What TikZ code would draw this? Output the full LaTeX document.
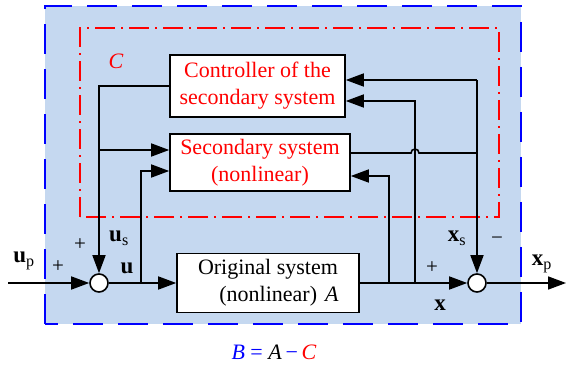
\documentclass[tikz,border=0pt]{standalone}
\usepackage{fontspec}
\setmainfont{Liberation Serif}
\usetikzlibrary{arrows.meta}
\definecolor{bgblue}{RGB}{197,216,240}
\tikzset{
  box/.style={draw=black,line width=1.6pt,fill=white,inner sep=0pt,align=center,font=\rmfamily\fontsize{22}{27}\selectfont},
  sumj/.style={circle,draw=black,line width=1.6pt,fill=white,minimum size=18pt,inner sep=0pt},
  conn/.style={line width=1.6pt,-{Triangle[length=18pt,width=13pt]}},
  wire/.style={line width=1.6pt},
  lbl/.style={font=\fontsize{23}{23}\selectfont,inner sep=0pt},
  sgn/.style={font=\fontsize{21}{21}\selectfont,inner sep=0pt},
}
\begin{document}
\begin{tikzpicture}[x=1pt,y=1pt]
\useasboundingbox (0,0) rectangle (566,367);
% outer region B
\fill[bgblue] (45,43) rectangle (521,361);
\draw[blue,line width=2pt,dash pattern=on 30pt off 15pt] (45,43) rectangle (521,361);
% region C
\draw[red,line width=1.5pt,dash pattern=on 20pt off 6pt on 2pt off 6pt] (80,150) rectangle (499,339);
\node[red,font=\fontsize{22}{22}\selectfont\itshape] (lc) at (116,306) {C};
% blocks
\node[box,text=red,minimum width=175pt,minimum height=62pt] (ctrl) at (257.5,281) {Controller of the\\secondary system};
\node[box,text=red,minimum width=180pt,minimum height=57pt] (sec) at (260,204.5) {Secondary system\\(nonlinear)};
\node[box,minimum width=182pt,minimum height=59pt] (orig) at (268,84) {Original system\\\hspace*{22pt}(nonlinear)\hspace{8pt}\textit{A}};
% summing junctions
\node[sumj] (jl) at (99,84) {};
\node[sumj] (jr) at (477,84) {};
\coordinate (in) at (8,84);
\coordinate (out) at (566,84);
% helper coordinates
\coordinate (b1) at (99,217);
\coordinate (b2) at (141,84);
\coordinate (uT) at (141,196);
\coordinate (x1) at (389,84);
\coordinate (x1t) at (389,191);
\coordinate (x2) at (415,84);
\coordinate (x2t) at (415,266);
\coordinate (xs) at (477,287);
\coordinate (hop) at (415,214);
% connectors
\draw[conn] (in) -- (jl);
\draw[conn] (jl) -- (orig);
\draw[conn] (ctrl.west) -| (jl.north);
\draw[conn] (b1) -- (b1 -| sec.west);
\draw[conn] (b2) -- (uT) -- (uT -| sec.west);
\draw[conn] (orig.east) -- (jr.west);
\draw[conn] (jr) -- (out);
\draw[conn] (x1) -- (x1t) -- (x1t -| sec.east);
\draw[conn] (x2) -- (x2t) -- (x2t -| ctrl.east);
\draw[conn] (xs) -- (jr.north);
\draw[conn] (xs) -- (xs -| ctrl.east);
\draw[wire] (sec.east |- hop) -- ([xshift=-4pt]hop) arc[start angle=180,end angle=0,radius=4pt] -- (hop -| xs);
% labels
\node[lbl] (lup) at (24,106) {\textbf{u}\textsubscript{p}};
\node[sgn] (p1) at (58,100) {+};
\node[sgn] (p2) at (80,122) {+};
\node[lbl] (lus) at (119,129) {\textbf{u}\textsubscript{s}};
\node[lbl] (lu) at (127,99) {\textbf{u}};
\node[lbl] (lxs) at (457,129) {\textbf{x}\textsubscript{s}};
\node[sgn] (m1) at (497,126) {−};
\node[sgn] (p3) at (432,99) {+};
\node[lbl] (lx) at (440,62) {\textbf{x}};
\node[lbl] (lxp) at (542,103) {\textbf{x}\textsubscript{p}};
\node[font=\fontsize{22}{22}\selectfont] (eq) at (274,15) {\textcolor{blue}{\textit{B} = }\textit{A}\,\textcolor{blue}{−}\,\textcolor{red}{\textit{C}}};
\end{tikzpicture}
\end{document}
